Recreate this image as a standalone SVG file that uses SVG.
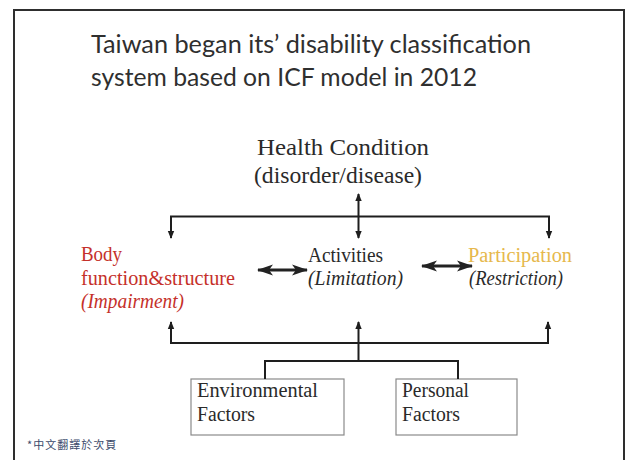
<svg xmlns="http://www.w3.org/2000/svg" width="630" height="460" viewBox="0 0 630 460">
  <style>
    .title { font-family: Lato, "Open Sans", sans-serif; font-size: 25px; fill: #2f2f2f; }
    .serif { font-family: "Liberation Serif", "DejaVu Serif", serif; fill: #2a2a2a; }
    .big { font-size: 24px; }
    .mid { font-size: 20px; }
    .it { font-style: italic; }
    .red { fill: #c5302a; }
    .gold { fill: #e6b84c; }
    .box { fill: #ffffff; stroke: #8a8a8a; stroke-width: 1.2; }
    .conn { fill: none; stroke: #1e1e1e; stroke-width: 2; }
    .dbl { fill: none; stroke: #222; stroke-width: 3; }
    .note { font-family: "Noto Sans CJK TC", "Noto Sans CJK SC", sans-serif; font-size: 11px; fill: #3b4a6b; letter-spacing: 1px; }
  </style>
  <defs>
    <marker id="head" markerUnits="userSpaceOnUse" markerWidth="8" markerHeight="8" viewBox="0 0 8 8" refX="7" refY="4" orient="auto-start-reverse">
      <path d="M0,0.8 L8,4 L0,7.2 Z" fill="#1e1e1e"/>
    </marker>
    <marker id="bighead" markerUnits="userSpaceOnUse" markerWidth="16" markerHeight="12" viewBox="0 0 16 12" refX="15" refY="6" orient="auto-start-reverse">
      <path d="M0,0.5 L16,6 L0,11.5 L4,6 Z" fill="#222"/>
    </marker>
  </defs>

  <rect width="630" height="460" fill="#ffffff"/>
  <path d="M14,470 L14,10 L624,10 L624,470" fill="none" stroke="#2e2e2e" stroke-width="2"/>

  <g id="title">
    <text class="title" x="91" y="53" textLength="440" lengthAdjust="spacingAndGlyphs">Taiwan began its’ disability classification</text>
    <text class="title" x="91" y="86" textLength="386" lengthAdjust="spacingAndGlyphs">system based on ICF model in 2012</text>
  </g>

  <g id="health-condition">
    <text class="serif big" x="257" y="155" textLength="172" lengthAdjust="spacingAndGlyphs">Health Condition</text>
    <text class="serif big" x="254" y="183" textLength="168" lengthAdjust="spacingAndGlyphs">(disorder/disease)</text>
  </g>

  <g id="body-function">
    <text class="serif mid red" x="81" y="261" textLength="41" lengthAdjust="spacingAndGlyphs">Body</text>
    <text class="serif mid red" x="81" y="285" textLength="154" lengthAdjust="spacingAndGlyphs">function&amp;structure</text>
    <text class="serif mid red it" x="81" y="308" textLength="103" lengthAdjust="spacingAndGlyphs">(Impairment)</text>
  </g>

  <g id="activities">
    <text class="serif mid" x="308" y="262" textLength="75" lengthAdjust="spacingAndGlyphs">Activities</text>
    <text class="serif mid it" x="308" y="285" textLength="95" lengthAdjust="spacingAndGlyphs">(Limitation)</text>
  </g>

  <g id="participation">
    <text class="serif mid gold" x="468" y="262" textLength="104" lengthAdjust="spacingAndGlyphs">Participation</text>
    <text class="serif mid it" x="469" y="285" textLength="94" lengthAdjust="spacingAndGlyphs">(Restriction)</text>
  </g>

  <g id="environmental-factors">
    <rect class="box" x="191" y="379" width="153" height="56"/>
    <text class="serif mid" x="197" y="397" textLength="121" lengthAdjust="spacingAndGlyphs">Environmental</text>
    <text class="serif mid" x="197" y="421" textLength="58" lengthAdjust="spacingAndGlyphs">Factors</text>
  </g>

  <g id="personal-factors">
    <rect class="box" x="396" y="379" width="121" height="56"/>
    <text class="serif mid" x="402" y="397" textLength="67" lengthAdjust="spacingAndGlyphs">Personal</text>
    <text class="serif mid" x="402" y="421" textLength="58" lengthAdjust="spacingAndGlyphs">Factors</text>
  </g>

  <g id="connectors">
    <path class="conn" d="M358.5,194 L358.5,238" marker-start="url(#head)" marker-end="url(#head)"/>
    <path class="conn" d="M171,238 L171,216.5 L549,216.5 L549,238" marker-start="url(#head)" marker-end="url(#head)"/>
    <path class="dbl" d="M258,270 L307,270" marker-start="url(#bighead)" marker-end="url(#bighead)"/>
    <path class="dbl" d="M422,266 L472,266" marker-start="url(#bighead)" marker-end="url(#bighead)"/>
    <path class="conn" d="M171,322 L171,343 L548,343 L548,322" marker-start="url(#head)" marker-end="url(#head)"/>
    <path class="conn" d="M358.5,361 L358.5,322" marker-end="url(#head)"/>
    <path class="conn" d="M265,379 L265,361 L458,361 L458,379"/>
  </g>

  <g id="footnote">
    <text class="note" x="27" y="449">*中文翻譯於次頁</text>
  </g>
</svg>
